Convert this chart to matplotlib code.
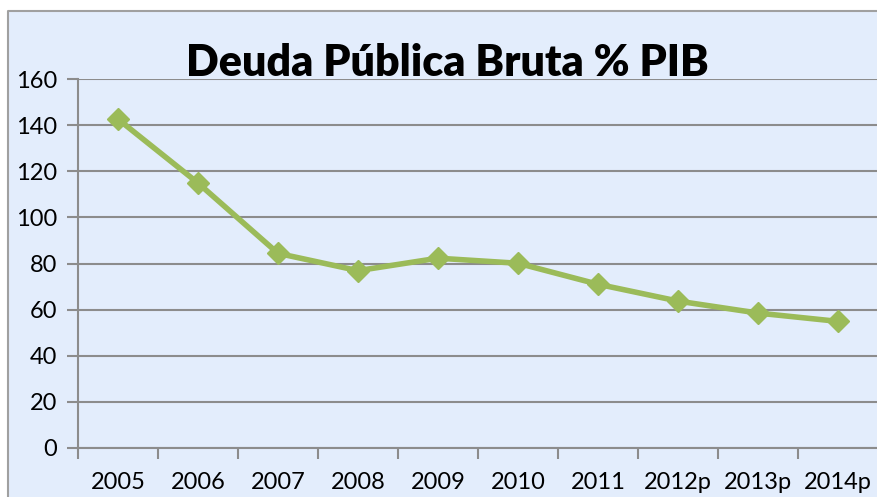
import matplotlib.pyplot as plt
from matplotlib.patches import Rectangle
from matplotlib.lines import Line2D
import numpy as np

years = ['2005', '2006', '2007', '2008', '2009', '2010', '2011', '2012p', '2013p', '2014p']
deuda = [142.6, 114.9, 84.4, 76.9, 82.3, 80.1, 71.0, 63.7, 58.5, 54.9]
yticks = [0, 20, 40, 60, 80, 100, 120, 140, 160]

bg = '#E3EDFC'
green = '#9BBB59'
grey = '#8C8C8C'

W, H = 878, 497
fig = plt.figure(figsize=(W / 100, H / 100), dpi=100)
fig.patch.set_facecolor('white')

# chart area (runs off the right and bottom edges), border only on top and left
x0, y0 = 8 / W, 1 - 11 / H
fig.patches.append(Rectangle((x0, -0.05), 1.1 - x0, y0 + 0.05, transform=fig.transFigure,
                             facecolor=bg, edgecolor='none', zorder=-5))
fig.lines.append(Line2D([x0, x0, 1.1], [-0.05, y0, y0], transform=fig.transFigure,
                        color='#A0A0A0', linewidth=1.5, zorder=-4))

ax = fig.add_axes([78 / W, 1 - 448 / H, 1 - 78 / W, (448 - 79) / H])
ax.set_facecolor(bg)

x = np.arange(len(years))
ax.plot(x, deuda, color=green, linewidth=4, marker='D', markersize=11,
        markerfacecolor=green, markeredgecolor=green, zorder=3, clip_on=False)

ax.set_ylim(0, 160)
ax.set_xlim(-0.5, len(years) - 0.5)
ax.set_yticks(yticks)
ax.set_yticklabels([str(v) for v in yticks])
ax.grid(axis='y', color=grey, linewidth=1.5)
ax.set_axisbelow(True)

# ticks between categories, labels in the middle
ax.set_xticks(np.arange(len(years)) - 0.5)
ax.set_xticklabels([])
ax.set_xticks(x, minor=True)
ax.set_xticklabels(years, minor=True)
ax.tick_params(axis='x', which='major', length=8, width=1.5, color=grey, direction='out')
ax.tick_params(axis='x', which='minor', length=0, pad=17, labelsize=17)
ax.tick_params(axis='y', length=8, width=1.5, color=grey, pad=7, labelsize=17)
for lab in ax.get_xticklabels(minor=True) + ax.get_yticklabels():
    lab.set_fontfamily('Lato')

for s in ['top', 'right']:
    ax.spines[s].set_visible(False)
for s in ['left', 'bottom']:
    ax.spines[s].set_color(grey)
    ax.spines[s].set_linewidth(1.5)

fig.text(447 / W, 1 - 76 / H, 'Deuda Pública Bruta % PIB', ha='center', va='baseline',
         fontsize=31, fontweight='heavy', fontfamily='Lato')

fig.savefig('out.png', dpi=100)
